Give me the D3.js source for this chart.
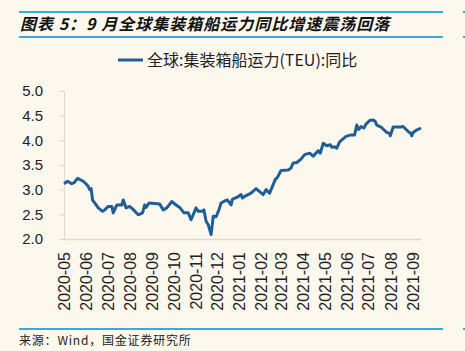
<!DOCTYPE html>
<html lang="zh">
<head>
<meta charset="UTF-8">
<title>全球集装箱船运力同比</title>
<script src="https://d3js.org/d3.v7.min.js"></script>
<style>
  html, body { margin: 0; padding: 0; background: #fdf8ee; }
  svg { display: block; }
</style>
</head>
<body>
<svg width="465" height="351"></svg>
<script>
// 数据
const dates = [
  "2020-05-01","2020-05-06","2020-05-12","2020-05-15","2020-05-20","2020-05-28","2020-06-02","2020-06-04",
  "2020-06-06","2020-06-08","2020-06-10","2020-06-13","2020-06-18","2020-06-24","2020-06-27","2020-07-02",
  "2020-07-07","2020-07-09","2020-07-14","2020-07-21","2020-07-23","2020-07-27","2020-08-01","2020-08-05",
  "2020-08-13","2020-08-19","2020-08-22","2020-08-24","2020-08-28","2020-09-12","2020-09-17","2020-09-22",
  "2020-09-29","2020-10-05","2020-10-10","2020-10-16","2020-10-22","2020-10-26","2020-11-02","2020-11-05",
  "2020-11-11","2020-11-13","2020-11-16","2020-11-19","2020-11-23","2020-11-26","2020-11-30","2020-12-04",
  "2020-12-07","2020-12-12","2020-12-16","2020-12-21","2020-12-23","2020-12-30","2021-01-04","2021-01-06",
  "2021-01-11","2021-01-18","2021-01-25","2021-02-04","2021-02-08","2021-02-13","2021-02-21","2021-02-24",
  "2021-03-01","2021-03-11","2021-03-15","2021-03-18","2021-03-23","2021-03-29","2021-04-03","2021-04-10",
  "2021-04-15","2021-04-22","2021-04-25","2021-04-29","2021-05-04","2021-05-09","2021-05-11","2021-05-15",
  "2021-05-18","2021-05-22","2021-05-26","2021-05-31","2021-06-07","2021-06-12","2021-06-15","2021-06-18",
  "2021-06-21","2021-06-25","2021-06-28","2021-07-03","2021-07-08","2021-07-11","2021-07-13","2021-07-19",
  "2021-07-24","2021-07-27","2021-07-31","2021-08-01","2021-08-05","2021-08-16","2021-08-19","2021-08-26",
  "2021-08-30","2021-08-31","2021-09-02","2021-09-06","2021-09-13"
];
const values = [
  3.12,3.17,3.12,3.14,3.23,3.17,3.10,3.06,
  3.00,3.02,2.79,2.73,2.63,2.56,2.59,2.66,
  2.66,2.53,2.69,2.69,2.79,2.63,2.66,2.61,
  2.49,2.53,2.69,2.64,2.73,2.71,2.59,2.63,
  2.76,2.69,2.64,2.53,2.53,2.39,2.63,2.56,
  2.56,2.59,2.36,2.29,2.09,2.46,2.45,2.59,
  2.73,2.77,2.79,2.69,2.81,2.85,2.90,2.83,
  2.88,2.93,3.02,2.90,3.00,2.93,3.21,3.25,
  3.39,3.40,3.44,3.54,3.55,3.62,3.71,3.74,
  3.68,3.79,3.74,3.94,3.89,3.91,3.86,3.87,
  3.84,3.97,4.02,4.08,4.11,4.11,4.31,4.22,
  4.28,4.25,4.33,4.40,4.41,4.38,4.31,4.27,
  4.20,4.16,4.14,4.09,4.27,4.27,4.28,4.18,
  4.14,4.09,4.16,4.20,4.25
];
const yTicks = [2.0, 2.5, 3.0, 3.5, 4.0, 4.5, 5.0];
const seriesName = "全球:集装箱船运力(TEU):同比";
const title = "图表 5：9 月全球集装箱船运力同比增速震荡回落";
const source = "来源：Wind，国金证券研究所";

const parse = d3.timeParse("%Y-%m-%d");
const data = dates.map((d, i) => ({ date: parse(d), value: values[i] }));

const svg = d3.select("svg");
const margin = { left: 64, right: 44, top: 91, bottom: 112 };
const width = 465, height = 351;

// 标题和边线
const blue = "#3aa9df";
[[12, 19, 443], [12, 463, 465], [37, 19, 443], [37, 463, 465], [329, 19, 443], [329, 463, 465]].forEach(([y, x1, x2]) => {
  svg.append("line").attr("x1", x1).attr("x2", x2).attr("y1", y).attr("y2", y)
     .attr("stroke", blue).attr("stroke-width", 2);
});

svg.append("text")
   .attr("x", 20).attr("y", 30)
   .attr("font-family", "'Noto Sans CJK SC'")
   .attr("font-size", 16).attr("font-weight", "bold").attr("font-style", "italic")
   .attr("letter-spacing", 1)
   .attr("fill", "#111")
   .text(title);

svg.append("text")
   .attr("x", 19).attr("y", 345)
   .attr("font-family", "'Noto Sans CJK SC'")
   .attr("font-size", 12)
   .attr("letter-spacing", 0.8)
   .attr("fill", "#222")
   .text(source);

// 比例尺
const x = d3.scaleTime()
  .domain([parse("2020-05-01"), parse("2021-09-13")])
  .range([margin.left, width - margin.right]);

const y = d3.scaleLinear()
  .domain([2, 5])
  .range([239, margin.top]);

// Y轴
const yAxis = svg.append("g")
  .attr("transform", `translate(${margin.left},0)`)
  .call(d3.axisLeft(y).tickValues(yTicks).tickFormat(d3.format(".1f")).tickSize(5).tickPadding(16));
yAxis.select(".domain").attr("stroke", "#d9d9d9");
yAxis.selectAll(".tick line").attr("stroke", "#d9d9d9");
yAxis.selectAll("text")
  .attr("font-family", "'Liberation Sans', Arial, sans-serif")
  .attr("font-size", 15).attr("fill", "#222");

// X轴
const xAxis = svg.append("g")
  .attr("transform", `translate(0,239)`)
  .call(d3.axisBottom(x).ticks(d3.timeMonth.every(1)).tickFormat(d3.timeFormat("%Y-%m")).tickSize(0));
xAxis.select(".domain").attr("stroke", "#d9d9d9").attr("stroke-width", 1.5);
xAxis.selectAll("text")
  .attr("font-family", "'Liberation Sans', Arial, sans-serif")
  .attr("font-size", 16).attr("fill", "#222")
  .attr("text-anchor", "end")
  .attr("transform", "rotate(-90)")
  .attr("x", -13).attr("y", 0).attr("dy", "0.36em");

// 折线
const lineColor = "#215e96";
svg.append("path")
  .datum(data)
  .attr("fill", "none")
  .attr("stroke", lineColor)
  .attr("stroke-width", 3)
  .attr("stroke-linejoin", "round")
  .attr("d", d3.line().x(d => x(d.date)).y(d => y(d.value)));

// 图例
svg.append("line")
  .attr("x1", 118).attr("x2", 143).attr("y1", 60).attr("y2", 60)
  .attr("stroke", lineColor).attr("stroke-width", 3);
svg.append("text")
  .attr("x", 147).attr("y", 66)
  .attr("font-family", "'Noto Sans CJK SC'")
  .attr("font-size", 16).attr("fill", "#222")
  .text(seriesName);
</script>
</body>
</html>
